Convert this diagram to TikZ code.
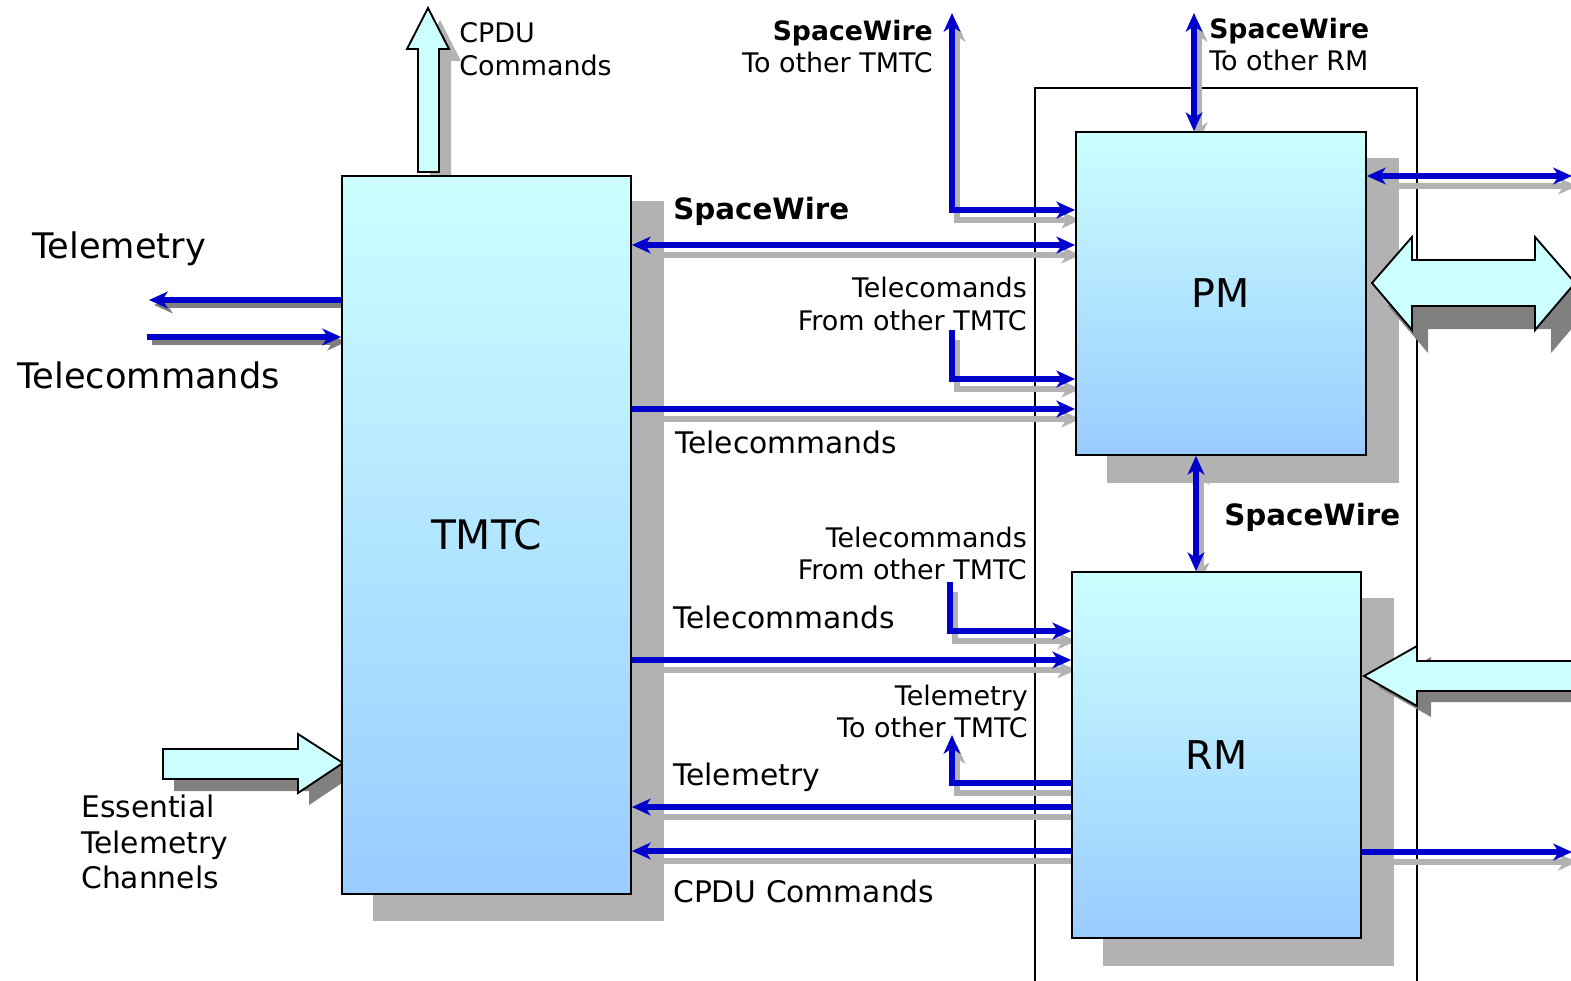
\documentclass[tikz,border=0pt]{standalone}
\usepackage{fontspec}
\setmainfont{DejaVu Sans}
\usetikzlibrary{arrows.meta}
\definecolor{wirec}{RGB}{0,0,204}
\definecolor{shlight}{RGB}{178,178,178}
\definecolor{shdark}{RGB}{128,128,128}
\definecolor{topc}{RGB}{204,255,255}
\definecolor{botc}{RGB}{153,204,255}
\pgfdeclarelayer{back}
\pgfdeclarelayer{shadow}
\pgfsetlayers{back,shadow,main}
\newcommand\fsmall{\fontsize{20.2pt}{24pt}\selectfont}
\newcommand\fmid{\fontsize{22.3pt}{26pt}\selectfont}
\newcommand\fbig{\fontsize{26.4pt}{30pt}\selectfont}
\newcommand\fswtop{\fontsize{20pt}{24pt}\selectfont\bfseries}
\newcommand\fswmid{\fontsize{22pt}{26pt}\selectfont\bfseries}
\newcommand\ftmtc{\fontsize{30.5pt}{36pt}\selectfont}
\newcommand\fpmrm{\fontsize{29.7pt}{34pt}\selectfont}
\newcommand\wirepath[3][wshL]{%
  \begin{pgfonlayer}{shadow}\draw[#1,#2] #3;\end{pgfonlayer}%
  \draw[wire,#2] #3;}
\begin{document}
\begin{tikzpicture}[x=0.75pt,y=-0.75pt,
  >={Stealth[length=14pt,width=12.5pt,inset=4pt]},
  wire/.style={draw=wirec, line width=3.9pt},
  wshL/.style={draw=shlight, line width=3.9pt, transform canvas={shift={(5,10)}}},
  wshD/.style={draw=shdark, line width=3.9pt, transform canvas={shift={(5,5)}}},
  box/.style={draw=black, line width=1.3pt, top color=topc, bottom color=botc, inner sep=0pt},
  blockarrow/.style={fill=topc, draw=black, line width=1.4pt, line join=miter},
  lbl/.style={inner sep=0pt, text=black}]
\useasboundingbox (0,0) rectangle (1571,981);

% background and outer frame
\begin{pgfonlayer}{back}
\fill[white] (0,0) rectangle (1571,981);
\draw[line width=1.3pt] (1035,995) |- (1417,88) -- (1417,995);
\end{pgfonlayer}

% block arrows (shadows first)
\fill[shlight,shift={(12,12)}] (418,172) -- (418,49) -- (407,49) -- (428,8) -- (449,49) -- (439,49) -- (439,172) -- cycle;
\filldraw[blockarrow] (418,172) -- (418,49) -- (407,49) -- (428,8) -- (449,49) -- (439,49) -- (439,172) -- cycle;

\fill[shdark,shift={(11,12)}] (163,749) -- (298,749) -- (298,734) -- (343,763) -- (298,793) -- (298,779) -- (163,779) -- cycle;
\filldraw[blockarrow] (163,749) -- (298,749) -- (298,734) -- (343,763) -- (298,793) -- (298,779) -- (163,779) -- cycle;

\fill[shdark,shift={(16,23)}] (1372,283) -- (1412,237) -- (1412,260) -- (1535,260) -- (1535,237) -- (1575,283) -- (1535,330) -- (1535,306) -- (1412,306) -- (1412,330) -- cycle;
\filldraw[blockarrow] (1372,283) -- (1412,237) -- (1412,260) -- (1535,260) -- (1535,237) -- (1575,283) -- (1535,330) -- (1535,306) -- (1412,306) -- (1412,330) -- cycle;

\fill[shdark,shift={(14,11)}] (1364,676) -- (1417,646) -- (1417,661) -- (1590,661) -- (1590,691) -- (1417,691) -- (1417,706) -- cycle;
\filldraw[blockarrow] (1364,676) -- (1417,646) -- (1417,661) -- (1590,661) -- (1590,691) -- (1417,691) -- (1417,706) -- cycle;

% main boxes
\node[box, minimum width=289*0.75pt, minimum height=718*0.75pt, font=\ftmtc] (tmtc) at (486.5,535) {TMTC};
\node[box, minimum width=290*0.75pt, minimum height=323*0.75pt, font=\fpmrm] (pm) at (1221,293.5) {PM};
\node[box, minimum width=289*0.75pt, minimum height=366*0.75pt, font=\fpmrm] (rm) at (1216.5,755) {RM};

\begin{pgfonlayer}{shadow}
\fill[shlight] ([shift={(32,26)}]tmtc.north west) rectangle ([shift={(32,26)}]tmtc.south east);
\fill[shlight] ([shift={(32,27)}]pm.north west) rectangle ([shift={(32,27)}]pm.south east);
\fill[shlight] ([shift={(32,27)}]rm.north west) rectangle ([shift={(32,27)}]rm.south east);
\end{pgfonlayer}

% free ends
\coordinate (swT) at (952,13);
\coordinate (swR) at (1194,13);
\coordinate (pmOut) at (1572,176);
\coordinate (tcA) at (952,330);
\coordinate (tcB) at (950,582);
\coordinate (tmB) at (952,735);
\coordinate (rmOut) at (1572,852);
\coordinate (tmL) at (149,300);
\coordinate (tcL) at (147,337);

% connectors
\wirepath{<->}{(tmtc.east |- 0,245) -- (pm.west |- 0,245)}
\wirepath{<->}{(swT) |- (pm.west |- 0,210)}
\wirepath{<->}{(swR) -- (swR |- pm.north)}
\wirepath{<->}{(pm.south -| 1196,0) -- (rm.north -| 1196,0)}
\wirepath{<->}{(pm.east |- pmOut) -- (pmOut)}
\wirepath{->}{(tcA) |- (pm.west |- 0,379)}
\wirepath{->}{(tmtc.east |- 0,409) -- (pm.west |- 0,409)}
\wirepath{->}{(tcB) |- (rm.west |- 0,631)}
\wirepath{->}{(tmtc.east |- 0,660) -- (rm.west |- 0,660)}
\wirepath{->}{(rm.west |- 0,783) -| (tmB)}
\wirepath{->}{(rm.west |- 0,807) -- (tmtc.east |- 0,807)}
\wirepath{->}{(rm.west |- 0,851) -- (tmtc.east |- 0,851)}
\wirepath{->}{(rm.east |- rmOut) -- (rmOut)}
\wirepath[wshD]{->}{(tmtc.west |- tmL) -- (tmL)}
\wirepath[wshD]{->}{(tcL) -- (tmtc.west |- tcL)}

% labels
\node[lbl, anchor=base west, font=\fsmall] (cpdu1) at (459,43) {CPDU};
\node[lbl, anchor=base west, font=\fsmall] (cpdu2) at (459,76) {Commands};
\node[lbl, anchor=base east, font=\fswtop] (swt1) at (933,41) {SpaceWire};
\node[lbl, anchor=base east, font=\fsmall] (swt2) at (933,73) {To other TMTC};
\node[lbl, anchor=base west, font=\fswtop] (swr1) at (1209,39) {SpaceWire};
\node[lbl, anchor=base west, font=\fsmall] (swr2) at (1209,71) {To other RM};
\node[lbl, anchor=base west, font=\fswmid] (swm) at (673,219) {SpaceWire};
\node[lbl, anchor=base west, font=\fbig] (tml) at (32,258) {Telemetry};
\node[lbl, anchor=base west, font=\fbig] (tcl) at (17,388) {Telecommands};
\node[lbl, anchor=base east, font=\fsmall] (tca1) at (1027,297) {Telecomands};
\node[lbl, anchor=base east, font=\fsmall] (tca2) at (1027,330) {From other TMTC};
\node[lbl, anchor=base west, font=\fmid] (tcm1) at (675,453) {Telecommands};
\node[lbl, anchor=base west, font=\fswmid] (swpr) at (1224,525) {SpaceWire};
\node[lbl, anchor=base east, font=\fsmall] (tcb1) at (1027,547) {Telecommands};
\node[lbl, anchor=base east, font=\fsmall] (tcb2) at (1027,579) {From other TMTC};
\node[lbl, anchor=base west, font=\fmid] (tcm2) at (673,628) {Telecommands};
\node[lbl, anchor=base east, font=\fsmall] (tmb1) at (1028,705) {Telemetry};
\node[lbl, anchor=base east, font=\fsmall] (tmb2) at (1028,737) {To other TMTC};
\node[lbl, anchor=base west, font=\fmid] (tmm) at (673,785) {Telemetry};
\node[lbl, anchor=base west, font=\fmid] (cpm) at (673,902) {CPDU Commands};
\node[lbl, anchor=base west, font=\fmid] (ess1) at (81,817) {Essential};
\node[lbl, anchor=base west, font=\fmid] (ess2) at (81,853) {Telemetry};
\node[lbl, anchor=base west, font=\fmid] (ess3) at (81,888) {Channels};
\end{tikzpicture}
\end{document}
